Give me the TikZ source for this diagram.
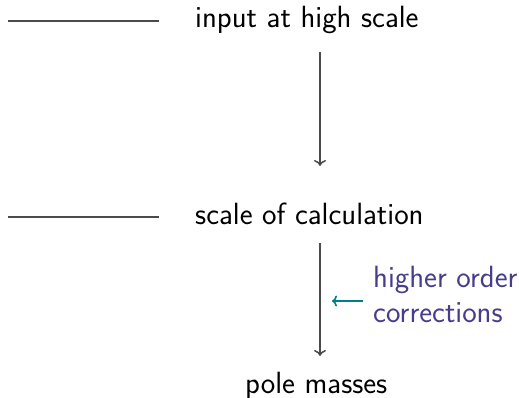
\documentclass[tikz,border=0pt]{standalone}
\usetikzlibrary{arrows.meta}
\definecolor{linegray}{RGB}{75,75,75}
\definecolor{notecol}{RGB}{72,61,139}
\definecolor{tealcol}{RGB}{0,128,128}
\begin{document}
\begin{tikzpicture}[x=1pt,y=-1pt,
  lbl/.style={inner sep=0pt,anchor=base west,font=\fontsize{30.7}{35}\selectfont\sffamily},
  level/.style={draw=linegray,line width=1.5pt},
  flow/.style={draw=linegray,line width=1.5pt,-{To[length=6pt,width=12pt]}},
  hint/.style={draw=tealcol,line width=1.6pt,-{To[length=5pt,width=11pt]}},
  note/.style={lbl,text=notecol,align=left}]
\useasboundingbox (0,0) rectangle (519,398);
% levels
\coordinate (l1a) at (8,21);
\coordinate (l1b) at (159,21);
\coordinate (l2a) at (8,217);
\coordinate (l2b) at (159,217);
\draw[level] (l1a) -- (l1b);
\draw[level] (l2a) -- (l2b);
% texts
\node[lbl] (high) at (195,28) {input at high scale};
\node[lbl] (calc) at (195,224) {scale of calculation};
\node[lbl] (pole) at (245,393) {pole masses};
\node[note] (ho1) at (373,287) {higher order};
\node[note] (ho2) at (373,322) {corrections};
% hint arrow
\coordinate (h1) at (363,301);
\coordinate (h2) at (332,301);
\draw[hint] (h1) -- (h2);
% flow arrows
\coordinate (a1s) at (320,52);
\coordinate (a1e) at (320,166);
\coordinate (a2s) at (320,243);
\coordinate (a2e) at (320,356);
\draw[flow] (a1s) -- (a1e);
\draw[flow] (a2s) -- (a2e);
\end{tikzpicture}
\end{document}
